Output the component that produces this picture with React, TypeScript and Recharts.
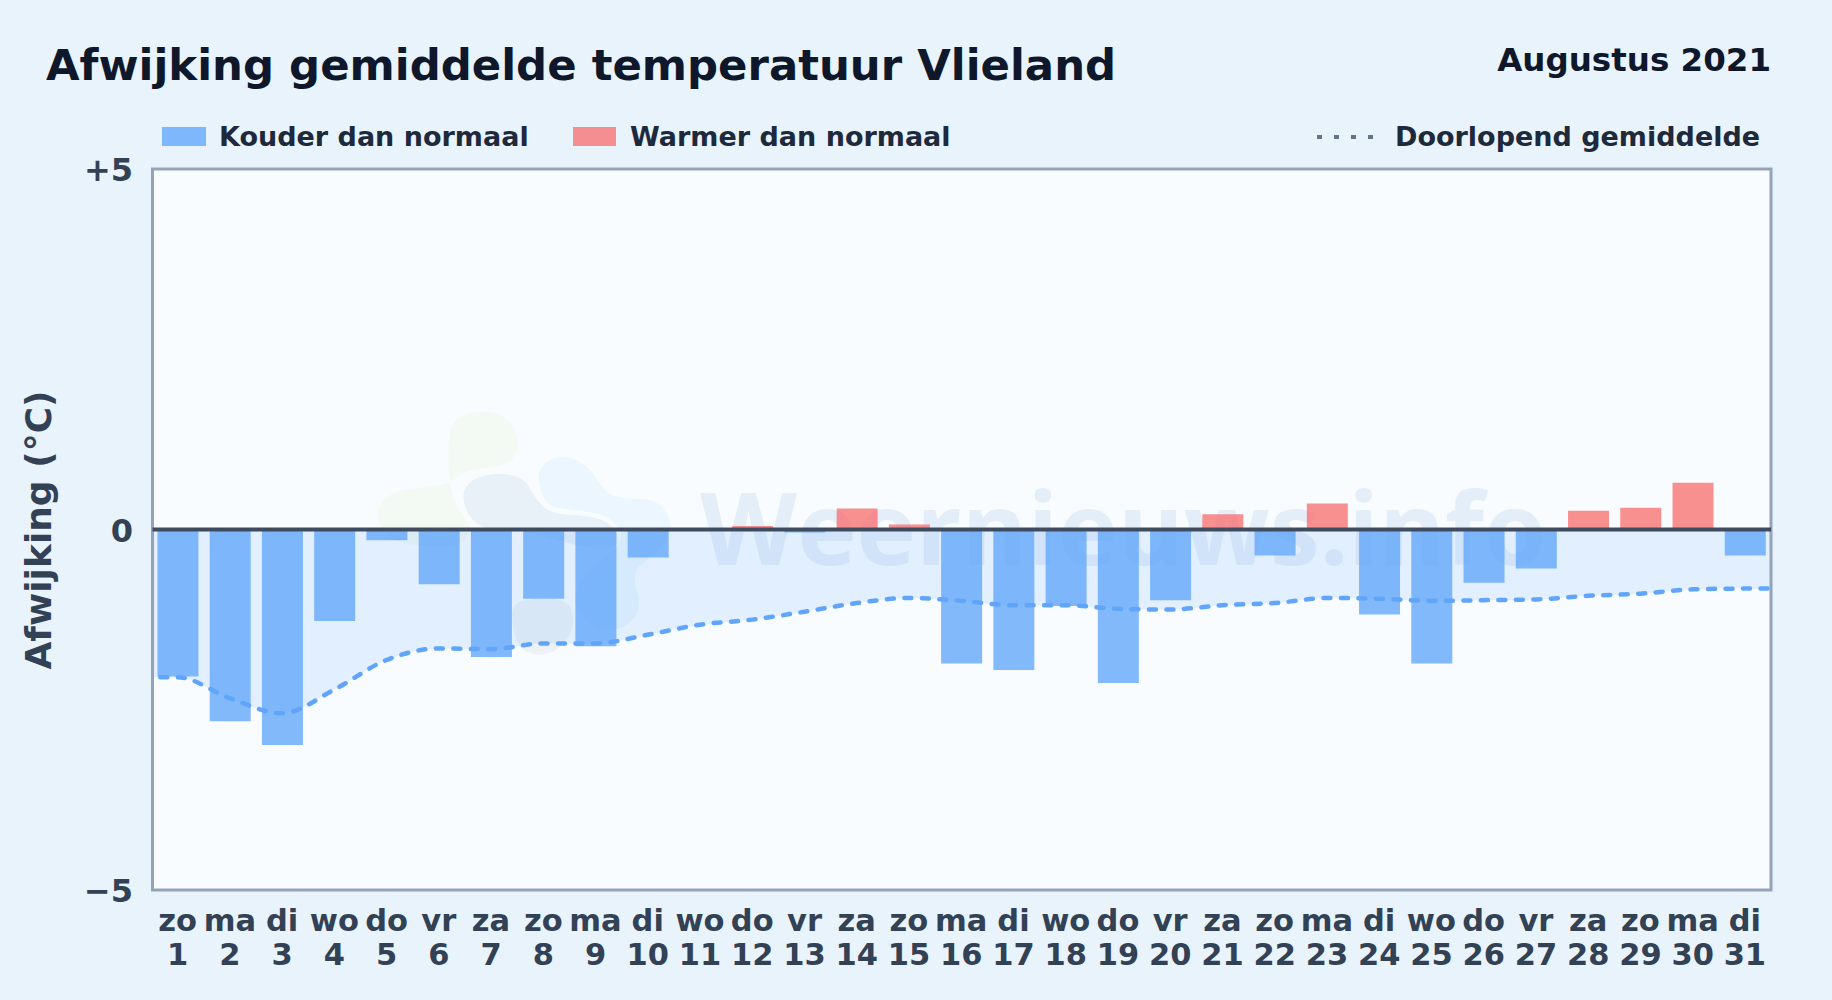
import React from 'react';
import { ComposedChart, Bar, Line, Area, XAxis, YAxis, ReferenceLine, ReferenceArea, Legend } from 'recharts';

const weekdays = ['zo','ma','di','wo','do','vr','za','zo','ma','di','wo','do','vr','za','zo','ma','di','wo','do','vr','za','zo','ma','di','wo','do','vr','za','zo','ma','di'];
const days = [1,2,3,4,5,6,7,8,9,10,11,12,13,14,15,16,17,18,19,20,21,22,23,24,25,26,27,28,29,30,31];
const deviations = [-2.04,-2.66,-2.99,-1.27,-0.15,-0.76,-1.77,-0.96,-1.62,-0.39,0,0.05,-0.04,0.29,0.07,-1.86,-1.95,-1.06,-2.13,-0.98,0.21,-0.36,0.36,-1.18,-1.86,-0.74,-0.54,0.26,0.3,0.65,-0.36];
const runningMean = [-2.05,-2.34,-2.55,-2.22,-1.81,-1.65,-1.66,-1.58,-1.58,-1.46,-1.32,-1.25,-1.14,-1.02,-0.95,-0.99,-1.05,-1.05,-1.1,-1.11,-1.05,-1.02,-0.95,-0.96,-0.99,-0.98,-0.97,-0.92,-0.89,-0.83,-0.82];
const yTicks = [-5, 0, 5];
const yTickLabels: Record<string, string> = { '-5': '−5', '0': '0', '5': '+5' };
const FONT = '"DejaVu Sans", sans-serif';
const X_MIN = 0.52;
const X_MAX = 31.5;

const rows: any[] = [
  { day: 0, mean: runningMean[0], band: runningMean[0] },
  ...days.map((d, i) => ({
    day: d,
    cold: deviations[i] < 0 ? deviations[i] : null,
    warm: deviations[i] > 0 ? deviations[i] : null,
    mean: runningMean[i],
    band: runningMean[i],
  })),
  { day: 32, mean: runningMean[30], band: runningMean[30] },
];

function smooth(p: number[][]) {
  const mid = (a: number[], b: number[]) => [(a[0] + b[0]) / 2, (a[1] + b[1]) / 2];
  const s = mid(p[p.length - 1], p[0]);
  let d = `M${s[0]} ${s[1]}`;
  p.forEach((pt, i) => {
    const m = mid(pt, p[(i + 1) % p.length]);
    d += `Q${pt[0]} ${pt[1]} ${m[0]} ${m[1]}`;
  });
  return d + 'Z';
}
const blobGreen = [[262,90],[300,45],[380,30],[450,55],[480,130],[455,190],[380,205],[320,210],[265,250],[200,262],[110,270],[55,310],[55,370],[90,420],[180,440],[300,440],[340,380],[270,300]];
const blobGrey = [[300,290],[335,235],[420,218],[495,235],[525,295],[570,340],[650,345],[730,355],[775,400],[770,450],[650,440],[500,390],[350,390]];
const blobBlue = [[528,230],[565,172],[640,170],[695,210],[735,280],[800,298],[890,298],[935,360],[925,420],[860,480],[815,520],[845,620],[805,680],[720,700],[650,640],[640,570],[700,500],[800,420],[750,345],[640,330],[560,320]];
const blobLow = [[450,625],[490,596],[630,596],[645,680],[600,750],[530,770],[470,740]];

function Backdrop() {
  return (
    <svg width={1832} height={1000} style={{ position: 'absolute', left: 0, top: 0 }}>
      <rect x={0} y={0} width={1832} height={1000} fill="#e8f3fc" />
      <rect x={152.5} y={169} width={1618.5} height={721} fill="#f8fcff" />
      <g transform="translate(360 400) scale(0.3333)">
        <path d={smooth(blobGreen)} fill="#f3f9f3" />
        <path d={smooth(blobBlue)} fill="#ebf6fe" />
        <path d={smooth(blobGrey)} fill="#e8f0f8" />
        <path d={smooth(blobLow)} fill="#eef2f6" />
      </g>
      <text x={700} y={565} fontFamily='"Open Sans", sans-serif' fontWeight={700} fontSize={100.5} fill="#e4eef8">Weernieuws.info</text>
      <text x={46} y={80} fontFamily={FONT} fontWeight={700} fontSize={43.4} fill="#0f172a">Afwijking gemiddelde temperatuur Vlieland</text>
      <text x={1771} y={70.5} textAnchor="end" fontFamily={FONT} fontWeight={700} fontSize={32.5} fill="#0f172a">Augustus 2021</text>
    </svg>
  );
}

function LegendContent() {
  const txt = { fontFamily: FONT, fontWeight: 700, fontSize: 27, fill: '#1e293b' } as const;
  return (
    <svg width={1832} height={170} style={{ position: 'absolute', left: 0, top: 0, overflow: 'visible' }}>
      <rect x={162} y={127} width={44} height={19} fill="#60a5fa" fillOpacity={0.78} />
      <text x={219} y={146} {...txt}>Kouder dan normaal</text>
      <rect x={573} y={127} width={43} height={19} fill="#f87171" fillOpacity={0.78} />
      <text x={630} y={146} {...txt}>Warmer dan normaal</text>
      <line x1={1317} y1={137} x2={1375} y2={137} stroke="#64748b" strokeWidth={4} strokeDasharray="5 12" />
      <text x={1395} y={146} {...txt}>Doorlopend gemiddelde</text>
    </svg>
  );
}

function DayTick({ x, payload }: any) {
  const i = days.indexOf(payload.value);
  if (i < 0) return null;
  return (
    <g>
      <text x={x} y={931} textAnchor="middle" fontFamily={FONT} fontWeight={700} fontSize={30.5} fill="#334155">{weekdays[i]}</text>
      <text x={x} y={965} textAnchor="middle" fontFamily={FONT} fontWeight={700} fontSize={30.5} fill="#334155">{days[i]}</text>
    </g>
  );
}

function ValueTick({ y, payload }: any) {
  return (
    <text x={133} y={y + 12} textAnchor="end" fontFamily={FONT} fontWeight={700} fontSize={32} fill="#334155">
      {yTickLabels[String(payload.value)]}
    </text>
  );
}

function AxisTitle() {
  return (
    <text transform="translate(51 530) rotate(-90)" textAnchor="middle" fontFamily={FONT} fontWeight={700} fontSize={36} fill="#334155">Afwijking (°C)</text>
  );
}

export default function App() {
  return (
    <div style={{ position: 'absolute', left: 0, top: 0, width: 1832, height: 1000, overflow: 'hidden' }}>
      <Backdrop />
      <div style={{ position: 'absolute', left: 0, top: 0 }}>
        <ComposedChart width={1832} height={1000} data={rows} margin={{ top: 169, right: 61, bottom: 20, left: 52.5 }} barGap={0}>
          <XAxis dataKey="day" type="number" domain={[X_MIN, X_MAX]} allowDataOverflow ticks={days} interval={0} height={90} axisLine={false} tickLine={false} tick={<DayTick />} />
          <YAxis type="number" domain={[-5, 5]} ticks={yTicks} width={100} axisLine={false} tickLine={false} tick={<ValueTick />}
            label={<AxisTitle />} />
          <Legend verticalAlign="top" content={<LegendContent />} wrapperStyle={{ position: 'absolute', left: 0, top: 0, width: 1832, height: 0 }} />
          <Area dataKey="band" type="monotone" fill="#60a5fa" fillOpacity={0.15} stroke="none" legendType="none" isAnimationActive={false} baseValue={0} connectNulls />
          <Bar dataKey="cold" name="Kouder dan normaal" stackId="d" fill="#60a5fa" fillOpacity={0.78} barSize={41} isAnimationActive={false} />
          <Bar dataKey="warm" name="Warmer dan normaal" stackId="d" fill="#f87171" fillOpacity={0.78} barSize={41} isAnimationActive={false} />
          <ReferenceLine y={0} stroke="#3f4c60" strokeWidth={4} />
          <Line dataKey="mean" name="Doorlopend gemiddelde" type="monotone" stroke="#60a5fa" strokeWidth={4.5} strokeDasharray="7 10.5" strokeLinecap="round" dot={false} activeDot={false} isAnimationActive={false} />
          <ReferenceArea x1={X_MIN} x2={X_MAX} y1={-5} y2={5} fill="none" stroke="#94a3b8" strokeWidth={3} ifOverflow="visible" />
        </ComposedChart>
      </div>
    </div>
  );
}
